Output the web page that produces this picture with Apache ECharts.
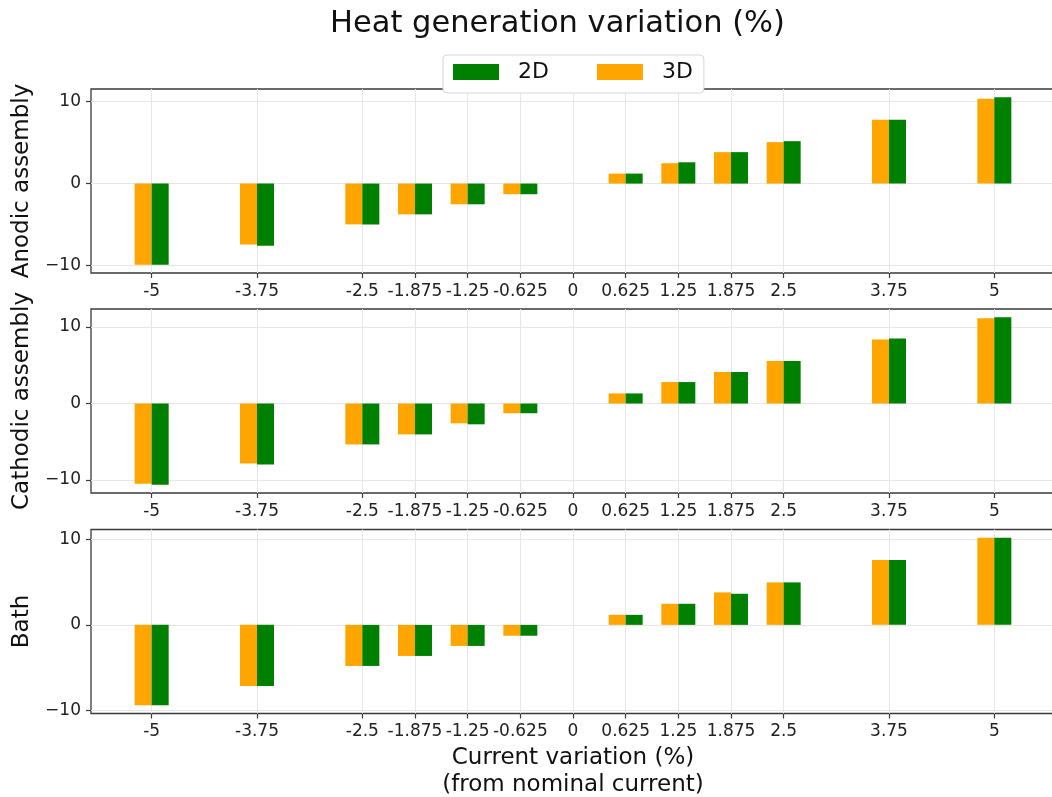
<!DOCTYPE html>
<html>
<head>
<meta charset="utf-8">
<title>Heat generation variation</title>
<script src="https://cdn.jsdelivr.net/npm/echarts@6/dist/echarts.min.js"></script>
<style>
  html, body { margin: 0; padding: 0; background: #ffffff; }
  #chart { width: 1052px; height: 797px; }
</style>
</head>
<body>
<div id="chart"></div>
<script>
// Current variation steps (% from nominal current)
const currentSteps = [-5, -3.75, -2.5, -1.875, -1.25, -0.625, 0.625, 1.25, 1.875, 2.5, 3.75, 5];
const xTicks = [-5, -3.75, -2.5, -1.875, -1.25, -0.625, 0, 0.625, 1.25, 1.875, 2.5, 3.75, 5];
const xTickLabels = ['-5', '-3.75', '-2.5', '-1.875', '-1.25', '-0.625', '0', '0.625', '1.25', '1.875', '2.5', '3.75', '5'];
const yTicks = [-10, 0, 10];

// Heat generation variation (%) per region
const anodic2D = [-9.9, -7.6, -5.0, -3.76, -2.53, -1.3, 1.22, 2.6, 3.84, 5.18, 7.8, 10.53];
const anodic3D = [-9.9, -7.45, -4.98, -3.76, -2.53, -1.3, 1.22, 2.49, 3.84, 5.06, 7.8, 10.37];
const cathodic2D = [-10.61, -7.98, -5.35, -4.04, -2.72, -1.27, 1.32, 2.81, 4.12, 5.57, 8.51, 11.27];
const cathodic3D = [-10.48, -7.85, -5.35, -4.04, -2.59, -1.27, 1.32, 2.81, 4.12, 5.57, 8.38, 11.14];
const bath2D = [-9.375, -7.15, -4.8, -3.63, -2.46, -1.27, 1.17, 2.46, 3.63, 4.96, 7.58, 10.16];
const bath3D = [-9.375, -7.15, -4.8, -3.63, -2.46, -1.27, 1.17, 2.46, 3.79, 4.96, 7.58, 10.16];

const panelNames = ['Anodic assembly', 'Cathodic assembly', 'Bath'];
const panels2D = [anodic2D, cathodic2D, bath2D];
const panels3D = [anodic3D, cathodic3D, bath3D];

const FONT = 'DejaVu Sans';
const GREEN = '#008000';
const ORANGE = '#FFA500';
const X_MIN = -5.72, X_MAX = 5.72;
const gridTops = [89, 309, 529.5];

function pairs(values) {
  return currentSteps.map((x, i) => [x, values[i]]);
}

// y range with a 5% margin around the data, like a default autoscale
function yRange(a, b) {
  const all = a.concat(b);
  const lo = Math.min(...all), hi = Math.max(...all);
  const pad = (hi - lo) * 0.05;
  return [lo - pad, hi + pad];
}

const grids = [], xAxes = [], yAxes = [], series = [];

panelNames.forEach((name, i) => {
  const last = i === panelNames.length - 1;
  const [ymin, ymax] = yRange(panels2D[i], panels3D[i]);

  grids.push({
    left: 91, top: gridTops[i], width: 964, height: 184,
    outerBoundsMode: 'none', containLabel: false,
    show: true, borderColor: '#3a3a3a', borderWidth: 1.3, backgroundColor: 'transparent'
  });

  xAxes.push({
    type: 'value', gridIndex: i, min: X_MIN, max: X_MAX, position: 'bottom',
    axisLine: { show: false, onZero: false },
    splitLine: { show: false },
    axisTick: { show: true, customValues: xTicks, length: 5, lineStyle: { color: '#3a3a3a', width: 1.2 } },
    axisLabel: {
      customValues: xTicks, margin: 10, color: '#222', fontFamily: FONT, fontSize: 17,
      formatter: v => xTickLabels[xTicks.indexOf(v)]
    },
    name: last ? 'Current variation (%)\n(from nominal current)' : '',
    nameLocation: 'middle', nameGap: 31,
    nameTextStyle: { fontFamily: FONT, fontSize: 23, lineHeight: 27, color: '#111' }
  });

  yAxes.push({
    type: 'value', gridIndex: i, min: ymin, max: ymax, position: 'left',
    axisLine: { show: false, onZero: false },
    splitLine: { show: false },
    axisTick: { show: true, customValues: yTicks, length: 5, lineStyle: { color: '#3a3a3a', width: 1.2 } },
    axisLabel: {
      customValues: yTicks, margin: 10, color: '#222', fontFamily: FONT, fontSize: 17,
      formatter: v => (v < 0 ? '\u2212' + Math.abs(v) : String(v))
    },
    name: name, nameLocation: 'middle', nameGap: 57,
    nameTextStyle: { fontFamily: FONT, fontSize: 23, color: '#111' }
  });

  // light grid lines at every tick, spanning the whole plot area
  const vLines = xTicks.map(v => [{ coord: [v, ymin] }, { coord: [v, ymax] }]);
  const hLines = yTicks.map(v => [{ coord: [X_MIN, v] }, { coord: [X_MAX, v] }]);
  series.push({
    type: 'line', xAxisIndex: i, yAxisIndex: i, data: [], silent: true,
    showSymbol: false,
    markLine: {
      silent: true, symbol: ['none', 'none'], z: 1, animation: false,
      label: { show: false },
      lineStyle: { color: '#e6e6e6', width: 1, type: 'solid' },
      emphasis: { disabled: true },
      data: vLines.concat(hLines)
    }
  });

  series.push({
    name: '3D', type: 'bar', xAxisIndex: i, yAxisIndex: i,
    barWidth: 17, barGap: '0%', z: 2,
    itemStyle: { color: ORANGE },
    data: pairs(panels3D[i])
  });
  series.push({
    name: '2D', type: 'bar', xAxisIndex: i, yAxisIndex: i,
    barWidth: 17, barGap: '0%', z: 2,
    itemStyle: { color: GREEN },
    data: pairs(panels2D[i])
  });
});

const chart = echarts.init(document.getElementById('chart'), null, { renderer: 'canvas' });
chart.setOption({
  animation: false,
  backgroundColor: '#ffffff',
  title: {
    text: 'Heat generation variation (%)',
    left: 330, top: 9, padding: 0,
    textStyle: { fontFamily: FONT, fontSize: 30.5, fontWeight: 'normal', color: '#111' }
  },
  legend: {
    data: ['2D', '3D'],
    left: 443, top: 55,
    orient: 'horizontal',
    itemWidth: 46, itemHeight: 16, itemGap: 48,
    padding: [6, 11, 10, 10],
    backgroundColor: '#ffffff', borderColor: '#d6d6d6', borderWidth: 1, borderRadius: 4,
    icon: 'rect',
    textStyle: { fontFamily: FONT, fontSize: 22, color: '#111', padding: [0, 0, 0, 14] },
    selectedMode: false, z: 10
  },
  grid: grids,
  xAxis: xAxes,
  yAxis: yAxes,
  series: series
});
</script>
</body>
</html>
